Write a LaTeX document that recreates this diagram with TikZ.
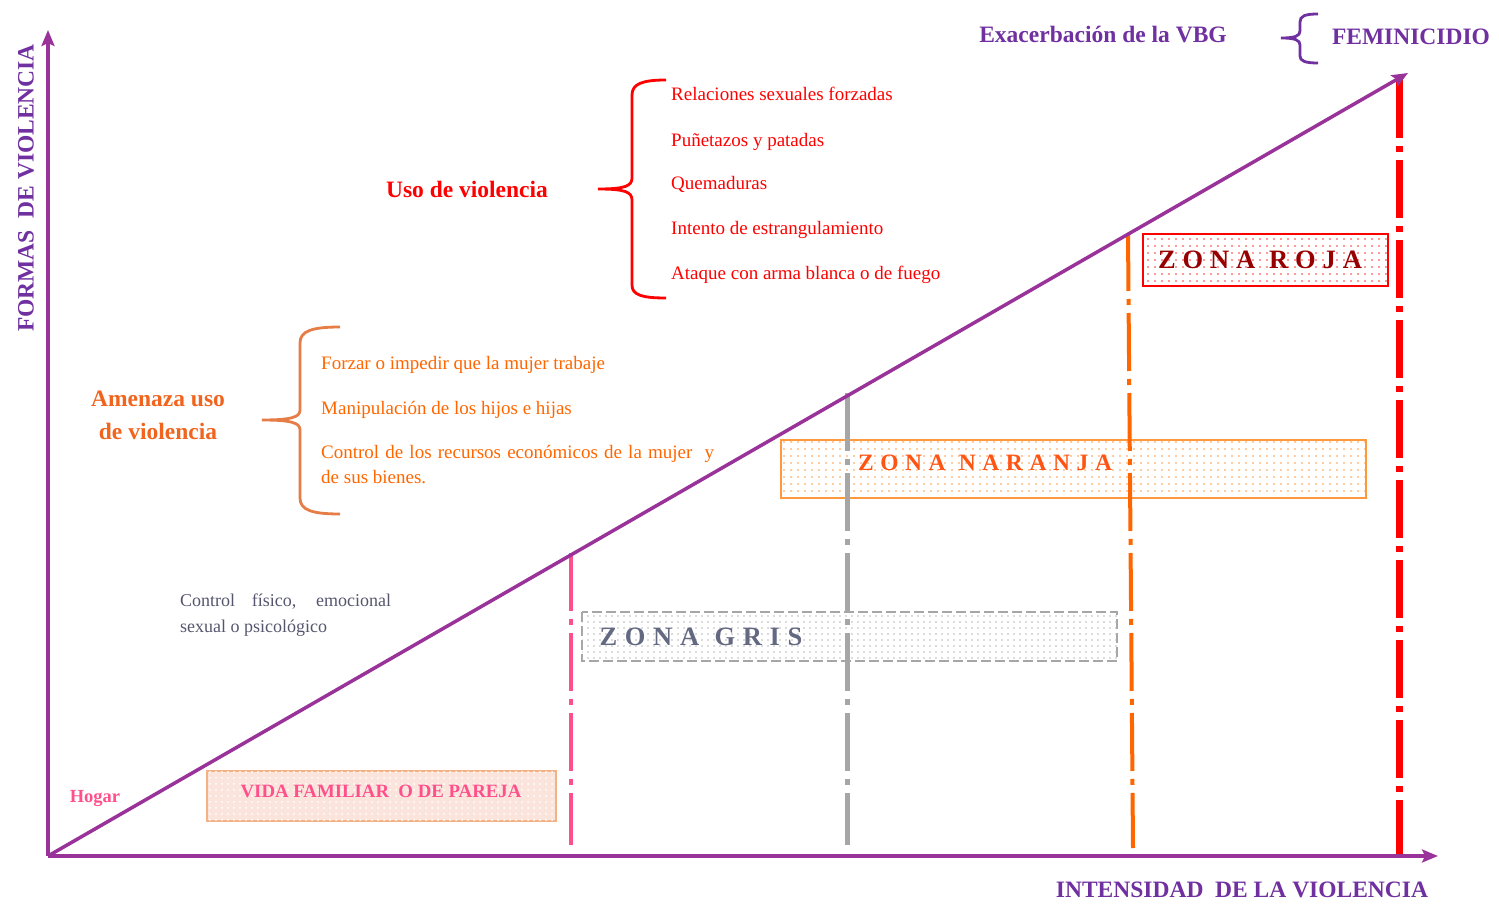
\documentclass[tikz,border=0pt]{standalone}
\usepackage{fontspec}
\setmainfont{Liberation Serif}
\usetikzlibrary{arrows.meta,patterns.meta}
\definecolor{axpurple}{RGB}{153,51,153}
\definecolor{txpurple}{RGB}{112,48,160}
\definecolor{vred}{RGB}{255,0,0}
\definecolor{vorange}{RGB}{255,102,0}
\definecolor{borange}{RGB}{230,125,70}
\definecolor{tamenaza}{RGB}{240,100,30}
\definecolor{vpink}{RGB}{255,80,140}
\definecolor{vgrey}{RGB}{166,166,166}
\definecolor{gristext}{RGB}{100,105,130}
\definecolor{rojatext}{RGB}{150,0,0}
\definecolor{naranjatext}{RGB}{255,85,20}
\definecolor{naranjabord}{RGB}{255,153,64}
\definecolor{vidabord}{RGB}{244,177,131}
\definecolor{vidafill}{RGB}{250,228,220}
\definecolor{ctrltext}{RGB}{85,85,110}
\tikzset{
  bigtxt/.style={font=\fontsize{23.5}{26}\selectfont\bfseries, inner sep=0pt},
  itemtxt/.style={font=\fontsize{19}{22}\selectfont, anchor=base west, inner sep=0pt},
  ddline/.style={dash pattern=on 58pt off 8pt on 6pt off 8pt},
  axis/.style={draw=axpurple, line width=4pt, -{Stealth[length=16pt,width=13pt,inset=3pt]}},
  brace/.style={line width=2.8pt},
  zonetxt/.style={font=\fontsize{23.5}{26}\selectfont\bfseries, inner sep=0pt},
  zonebig/.style={font=\fontsize{26.5}{29}\selectfont\bfseries, inner sep=0pt},
  zonebox/.style={line width=2pt},
}
\begin{document}
\begin{tikzpicture}[x=1pt,y=-1pt]
\useasboundingbox (0,0) rectangle (1499,904);
% zone boxes
\path[zonebox, draw=vidabord, fill=vidafill, postaction={pattern={Dots[distance=6pt,radius=1pt]}, pattern color=white}] (207,771) rectangle (556,821);
\path[zonebox, draw=vgrey, dash pattern=on 10pt off 4pt, postaction={pattern={Dots[distance=6pt,radius=0.9pt]}, pattern color=vgrey!80}] (582,612) rectangle (1117,661);
\path[zonebox, draw=naranjabord, postaction={pattern={Dots[distance=7pt,radius=0.9pt]}, pattern color=naranjabord}] (781,440) rectangle (1366,498);
\path[zonebox, draw=vred, postaction={pattern={Dots[distance=7pt,radius=0.9pt]}, pattern color=vred!80}] (1143,234) rectangle (1388,286);
% zone labels
\node[zonebig, text=rojatext] (roja) at (1260,260) {\makebox[204pt][s]{Z\hfil O\hfil N\hfil A\hfil\hfil R\hfil O\hfil J\hfil A}};
\node[zonetxt, text=naranjatext] (naranja) at (985,463) {\makebox[254pt][s]{Z\hfil O\hfil N\hfil A\hfil\hfil N\hfil A\hfil R\hfil A\hfil N\hfil J\hfil A}};
\node[zonebig, text=gristext] (gris) at (701,637) {\makebox[203pt][s]{Z\hfil O\hfil N\hfil A\hfil\hfil G\hfil R\hfil I\hfil S}};
\node[font=\fontsize{18.8}{22}\selectfont\bfseries, text=vpink, inner sep=0pt] (vida) at (381,791) {VIDA FAMILIAR\ \ O DE PAREJA};
% vertical dash-dot lines
\coordinate (pT) at (571,553); \coordinate (pB) at (571,845);
\coordinate (gT) at (847,393); \coordinate (gB) at (847,845);
\coordinate (oT) at (1128,233); \coordinate (oB) at (1133,848);
\coordinate (rT) at (1399,80); \coordinate (rB) at (1399,856);
\draw[ddline, draw=vpink, line width=4pt] (pT) -- (pB);
\draw[ddline, draw=vgrey, line width=5pt] (gT) -- (gB);
\draw[ddline, draw=vorange, line width=4pt] (oT) -- (oB);
\draw[ddline, draw=vred, line width=7pt] (rT) -- (rB);
% axes
\coordinate (O) at (48,856);
\coordinate (Ytip) at (48,30);
\coordinate (Xtip) at (1438,856);
\coordinate (Dtip) at (1408,73);
\draw[axis] (O) -- (Ytip);
\draw[axis] (O) -- (Xtip);
\draw[axis, line width=3.5pt] (O) -- (Dtip);
% axis labels
\node[bigtxt, text=txpurple, rotate=90] (formas) at (26,188) {FORMAS\ \ DE VIOLENCIA};
\node[bigtxt, text=txpurple] (intens) at (1242,890) {INTENSIDAD\ \ DE LA VIOLENCIA};
% top
\node[bigtxt, text=txpurple] (exac) at (1103,35) {Exacerbación de la VBG};
\node[bigtxt, text=txpurple] (femi) at (1411,37) {FEMINICIDIO};
\draw[brace, draw=txpurple] (1318,14) .. controls (1305,14) and (1300,16) .. (1300,22) -- (1300,31) .. controls (1300,36) and (1295,38) .. (1281,38) .. controls (1295,38) and (1300,40) .. (1300,45) -- (1300,56) .. controls (1300,61) and (1305,63) .. (1318,63);
% uso de violencia
\node[bigtxt, text=vred] (uso) at (467,189) {Uso de violencia};
\draw[brace, draw=vred] (666,80) .. controls (642,80) and (632,84) .. (632,95) -- (632,178) .. controls (632,186) and (625,189) .. (598,189) .. controls (625,189) and (632,192) .. (632,200) -- (632,285) .. controls (632,295) and (642,298) .. (666,298);
\node[itemtxt, text=vred] (r1) at (671,101) {Relaciones sexuales forzadas};
\node[itemtxt, text=vred] (r2) at (671,147) {Puñetazos y patadas};
\node[itemtxt, text=vred] (r3) at (671,190) {Quemaduras};
\node[itemtxt, text=vred] (r4) at (671,234) {Intento de estrangulamiento};
\node[itemtxt, text=vred] (r5) at (671,279) {Ataque con arma blanca o de fuego};
% amenaza
\node[bigtxt, text=tamenaza] (am1) at (158,399) {Amenaza uso};
\node[bigtxt, text=tamenaza] (am2) at (158,431) {de violencia};
\draw[brace, draw=borange] (340,327) .. controls (312,327) and (300,331) .. (300,343) -- (300,410) .. controls (300,417) and (292,420) .. (262,420) .. controls (292,420) and (300,423) .. (300,430) -- (300,498) .. controls (300,510) and (312,514) .. (340,514);
\node[itemtxt, text=vorange] (o1) at (321,369) {Forzar o impedir que la mujer trabaje};
\node[itemtxt, text=vorange] (o2) at (321,414) {Manipulación de los hijos e hijas};
\node[itemtxt, text=vorange] (o3) at (321,458) {\makebox[393pt][s]{Control de los recursos económicos de la mujer\ \ y}};
\node[itemtxt, text=vorange] (o4) at (321,483) {de sus bienes.};
% control
\node[itemtxt, font=\fontsize{18}{21}\selectfont, text=ctrltext] (c1) at (180,606) {\makebox[211pt][s]{Control físico, emocional}};
\node[itemtxt, font=\fontsize{18}{21}\selectfont, text=ctrltext] (c2) at (180,632) {sexual o psicológico};
% hogar
\node[font=\fontsize{18.5}{21}\selectfont\bfseries, text=vpink, inner sep=0pt] (hogar) at (95,798) {Hogar};
\end{tikzpicture}
\end{document}
